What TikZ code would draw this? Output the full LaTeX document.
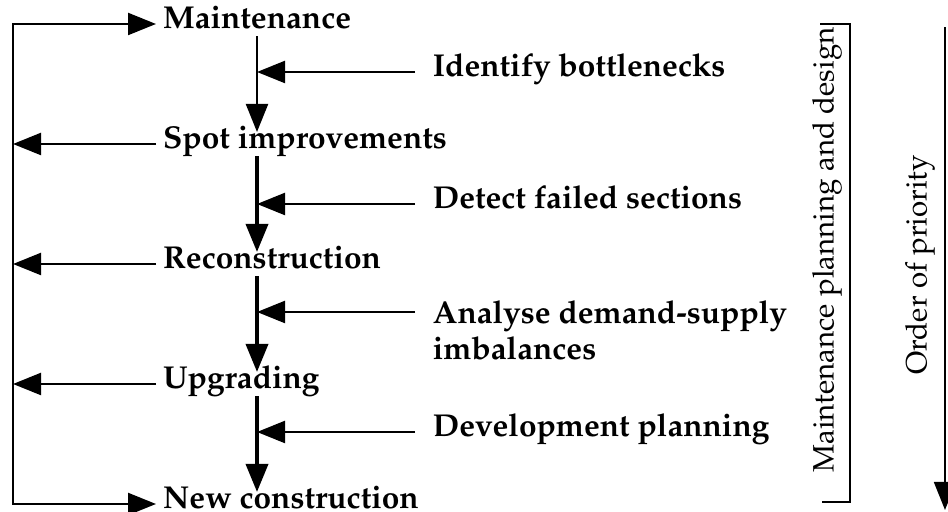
\documentclass[tikz,border=0pt]{standalone}
\usepackage[T1]{fontenc}
\renewcommand{\rmdefault}{ppl}
\usetikzlibrary{arrows.meta}

\begin{document}
\begin{tikzpicture}[>={Triangle[length=0.7cm,width=0.55cm]}, line width=1.6pt,
  stage/.style={anchor=west, inner sep=0.15cm, text height=0.7em, text depth=0pt,
    font=\fontsize{22.5}{26}\selectfont\bfseries},
  task/.style={stage, inner xsep=0.42cm},
  side/.style={rotate=90, inner sep=0pt, font=\fontsize{21}{25}\selectfont}]
\useasboundingbox (0,0) rectangle (23.7,12.8);

\node[stage] (S1) at (3.9,12.2) {Maintenance};
\node[stage] (S2) at (3.9,9.2)  {Spot improvements};
\node[stage] (S3) at (3.9,6.2)  {Reconstruction};
\node[stage] (S4) at (3.9,3.2)  {Upgrading};
\node[stage] (S5) at (3.9,0.2)  {New construction};

\node[task] (T1) at (10.375,11.0) {Identify bottlenecks};
\node[task] (T2) at (10.375,7.7)  {Detect failed sections};
\coordinate (A3) at (10.375,5.0);
\node[task, anchor=north west, align=left, text height=, text depth=,
  font=\fontsize{22.5}{25.5}\selectfont\bfseries] (T3) at ([yshift=0.45cm]A3)
  {Analyse demand-supply\\imbalances};
\node[task] (T4) at (10.375,2.0)  {Development planning};

\coordinate (L1) at (0.325,12.2);
\coordinate (L5) at (0.325,0.2);
\coordinate (C) at (6.425,0);

% feedback loop on the left
\draw[<->] (S1.west) -- (L1) -- (L5) -- (S5.west);
\draw[->] (S2.west) -- (S2.west -| L1);
\draw[->] (S3.west) -- (S3.west -| L1);
\draw[->] (S4.west) -- (S4.west -| L1);

% main sequence
\draw[->] (S1.south -| C) -- (S2.north -| C);
\draw[->, line width=2.6pt] (S2.south -| C) -- (S3.north -| C);
\draw[->, line width=2.6pt] (S3.south -| C) -- (S4.north -| C);
\draw[->, line width=2.6pt] (S4.south -| C) -- (S5.north -| C);

\draw[->] (T1.west) -- (T1.west -| C);
\draw[->] (T2.west) -- (T2.west -| C);
\draw[->] (A3) -- (A3 -| C);
\draw[->] (T4.west) -- (T4.west -| C);

% bracket and priority
\draw[line width=1.3pt] (20.5,12.2) -- (21.25,12.2) -- (21.25,0.25) -- (20.55,0.25);
\node[side] (MP) at (20.68,6.55) {Maintenance planning and design};
\coordinate (O1) at (23.625,12.12);
\coordinate (O2) at (23.625,0.05);
\draw[->, line width=1.3pt] (O1) -- (O2);
\node[side] (OP) at (23.0,6.18) {Order of priority};
\end{tikzpicture}
\end{document}
